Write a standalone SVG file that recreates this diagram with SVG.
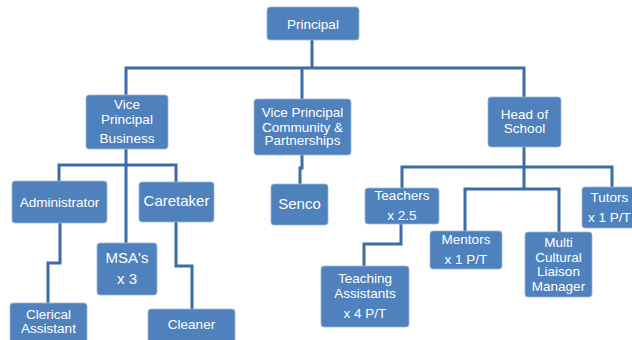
<svg xmlns="http://www.w3.org/2000/svg" width="632" height="340" viewBox="0 0 632 340">
<style>
.b{fill:#4f81bd;stroke:#9db7d9;stroke-width:0.8}
.t{font-family:"Liberation Sans",Arial,sans-serif;font-size:13.5px;fill:#ffffff;text-anchor:middle}
.l{font-size:15px}
.c{fill:none;stroke:#3d6ca4;stroke-width:3}
</style>
<rect width="632" height="340" fill="#ffffff"/>
<g id="connectors">
<path class="c" d="M312,40 V68"/>
<path class="c" d="M126,95 V68 H524 V97"/>
<path class="c" d="M302,68 V99"/>
<path class="c" d="M126,149 V243"/>
<path class="c" d="M59,181 V165 H176 V182"/>
<path class="c" d="M60,223 V263 H48 V303"/>
<path class="c" d="M176,222 V266 H192 V309"/>
<path class="c" d="M302,155 V168 H300 V184"/>
<path class="c" d="M524,147 V189"/>
<path class="c" d="M402,188 V167 H612 V187"/>
<path class="c" d="M465,231 V189 H559 V232"/>
<path class="c" d="M401,224 V244 H364 V266"/>
</g>
<g id="principal"><rect class="b" x="267" y="7" width="92" height="33" rx="3"/><text class="t" x="313" y="29">Principal</text></g>
<g id="vp-business"><rect class="b" x="86" y="95" width="82" height="54" rx="3"/><text class="t" x="127" y="109">Vice</text><text class="t" x="127" y="124">Principal</text><text class="t" x="127" y="143">Business</text></g>
<g id="vp-community"><rect class="b" x="254" y="99" width="97" height="56" rx="3"/><text class="t" x="302.5" y="117">Vice Principal</text><text class="t" x="302.5" y="131.5">Community &amp;</text><text class="t" x="302.5" y="145">Partnerships</text></g>
<g id="head-of-school"><rect class="b" x="488" y="97" width="73" height="50" rx="3"/><text class="t" x="524.5" y="119">Head of</text><text class="t" x="524.5" y="133">School</text></g>
<g id="administrator"><rect class="b" x="12" y="181" width="95" height="42" rx="3"/><text class="t" x="59.5" y="207">Administrator</text></g>
<g id="caretaker"><rect class="b" x="139" y="182" width="75" height="40" rx="3"/><text class="t l" x="176.5" y="206">Caretaker</text></g>
<g id="msas"><rect class="b" x="97" y="243" width="60" height="52" rx="3"/><text class="t l" x="127" y="263">MSA's</text><text class="t l" x="127" y="284">x 3</text></g>
<g id="clerical-assistant"><rect class="b" x="10" y="303" width="77" height="45" rx="3"/><text class="t" x="48.5" y="319">Clerical</text><text class="t" x="48.5" y="333">Assistant</text></g>
<g id="cleaner"><rect class="b" x="148" y="309" width="87" height="40" rx="3"/><text class="t" x="191.5" y="329">Cleaner</text></g>
<g id="senco"><rect class="b" x="271" y="184" width="57" height="41" rx="3"/><text class="t l" x="299.5" y="209">Senco</text></g>
<g id="teachers"><rect class="b" x="365" y="188" width="74" height="36" rx="3"/><text class="t" x="402" y="200">Teachers</text><text class="t" x="402" y="220">x 2.5</text></g>
<g id="teaching-assistants"><rect class="b" x="321" y="266" width="88" height="61" rx="3"/><text class="t" x="365" y="283">Teaching</text><text class="t" x="365" y="298">Assistants</text><text class="t" x="365" y="318">x 4 P/T</text></g>
<g id="mentors"><rect class="b" x="430" y="231" width="72" height="38" rx="3"/><text class="t" x="466" y="244">Mentors</text><text class="t" x="466" y="264">x 1 P/T</text></g>
<g id="multi-cultural"><rect class="b" x="525" y="232" width="67" height="65" rx="3"/><text class="t" x="558.5" y="247">Multi</text><text class="t" x="558.5" y="262">Cultural</text><text class="t" x="558.5" y="276">Liaison</text><text class="t" x="558.5" y="291">Manager</text></g>
<g id="tutors"><rect class="b" x="582" y="187" width="62" height="41" rx="3"/><text class="t" x="609.5" y="202">Tutors</text><text class="t" x="609.5" y="222">x 1 P/T</text></g>
</svg>
